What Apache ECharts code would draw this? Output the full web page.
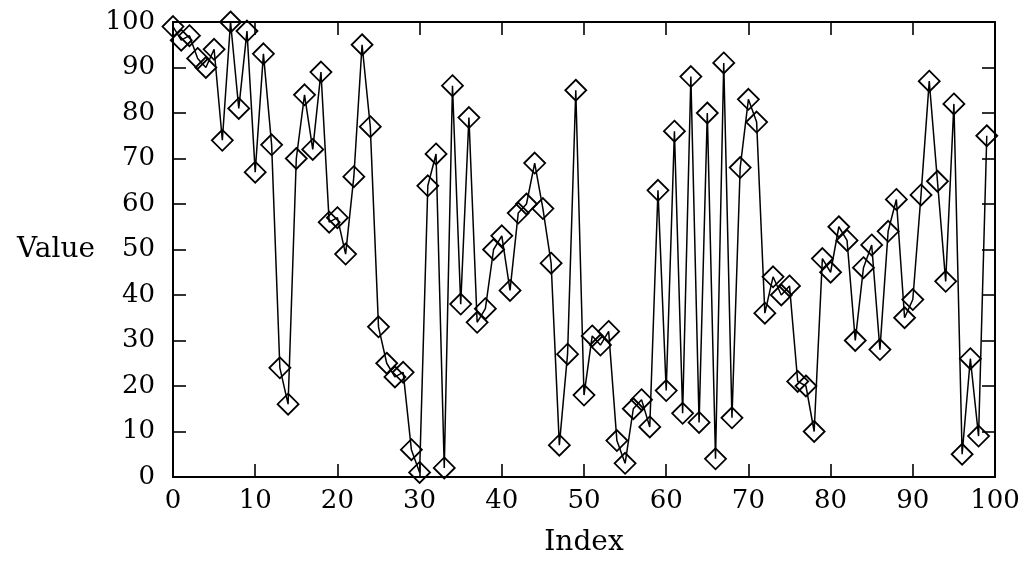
<!DOCTYPE html>
<html>
<head>
<meta charset="utf-8">
<script src="https://cdn.jsdelivr.net/npm/echarts@6/dist/echarts.min.js"></script>
<style>
html,body{margin:0;padding:0;background:#fff;}
#chart{width:1030px;height:574px;}
</style>
</head>
<body>
<div id="chart"></div>
<script>
const xTicks = [0,10,20,30,40,50,60,70,80,90,100];
const yTicks = [0,10,20,30,40,50,60,70,80,90,100];
const values = [
  99,96,97,92,90,94,74,100,81,98,
  67,93,73,24,16,70,84,72,89,56,
  57,49,66,95,77,33,25,22,23,6,
  1,64,71,2,86,38,79,34,37,50,
  53,41,58,60,69,59,47,7,27,85,
  18,31,29,32,8,3,15,17,11,63,
  19,76,14,88,12,80,4,91,13,68,
  83,78,36,44,40,42,21,20,10,48,
  45,55,52,30,46,51,28,54,61,35,
  39,62,87,65,43,82,5,26,9,75
];
const xName = 'Index';
const yName = 'Value';

const font = 'DejaVu Serif';
const chart = echarts.init(document.getElementById('chart'), null, {renderer:'canvas'});
const points = values.map((v,i)=>[i,v]);
const axisCommon = {
  min: 0, max: 100, interval: 10,
  axisLine: {show:true, onZero:false, lineStyle:{color:'#000', width:2}},
  axisTick: {show:true, inside:true, length:13, lineStyle:{color:'#000', width:1.6}},
  splitLine: {show:false}
};
chart.setOption({
  backgroundColor:'#fff',
  animation:false,
  grid:{left:173, right:35, top:22, bottom:97},
  xAxis:[
    Object.assign({}, axisCommon, {
      type:'value', position:'bottom',
      name:xName, nameLocation:'middle', nameGap:52,
      nameTextStyle:{fontFamily:font, fontSize:28, color:'#000'},
      axisLabel:{show:true, margin:11, fontFamily:font, fontSize:26, color:'#000',
        formatter:v=> xTicks.includes(v)? String(v):''}
    }),
    Object.assign({}, axisCommon, {
      type:'value', position:'top', axisLabel:{show:false}
    })
  ],
  yAxis:[
    Object.assign({}, axisCommon, {
      type:'value', position:'left',
      name:yName, nameLocation:'middle', nameRotate:0, nameGap:78,
      nameTextStyle:{fontFamily:font, fontSize:28, color:'#000', align:'right', verticalAlign:'middle'},
      axisLabel:{show:true, margin:18, fontFamily:font, fontSize:26, color:'#000',
        formatter:v=> yTicks.includes(v)? String(v):''}
    }),
    Object.assign({}, axisCommon, {
      type:'value', position:'right', axisLabel:{show:false}
    })
  ],
  series:[{
    type:'line',
    data:points,
    xAxisIndex:0, yAxisIndex:0,
    clip:false,
    symbol:'diamond',
    symbolSize:[21,21],
    showAllSymbol:true,
    lineStyle:{color:'#000', width:1.5},
    itemStyle:{color:'rgba(255,255,255,0)', borderColor:'#000', borderWidth:1.8},
    z:3
  }]
});
</script>
</body>
</html>
